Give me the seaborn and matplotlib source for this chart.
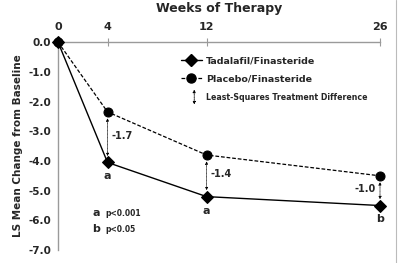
"""
LS mean change from baseline, tadalafil vs placebo (both with finasteride)
"""
import pandas as pd
import matplotlib
matplotlib.use("Agg")
import matplotlib.pyplot as plt
from matplotlib.lines import Line2D
import seaborn as sns

weeks = [0, 4, 12, 26]
tadalafil = [0.0, -4.05, -5.2, -5.5]
placebo = [0.0, -2.35, -3.8, -4.5]
differences = ["-1.7", "-1.4", "-1.0"]
significance = ["a", "a", "b"]
y_ticks = [0.0, -1.0, -2.0, -3.0, -4.0, -5.0, -6.0, -7.0]

df = pd.DataFrame({
    "week": weeks * 2,
    "change": tadalafil + placebo,
    "group": ["Tadalafil/Finasteride"] * 4 + ["Placebo/Finasteride"] * 4,
})

sns.set_style("white")
plt.rcParams['font.family'] = ['DejaVu Sans']
plt.rcParams['font.weight'] = 'bold'

fig = plt.figure(figsize=(4, 2.63), dpi=100)
ax = fig.add_axes([0.145, 0.049, 0.805, 0.791])

grey = "#9a9a9a"

# Main series
sns.lineplot(data=df[df.group == "Tadalafil/Finasteride"], x="week", y="change",
             color="black", linewidth=1.0, marker="D", markersize=6.5,
             markeredgecolor="black", ax=ax, clip_on=False, zorder=5)
sns.lineplot(data=df[df.group == "Placebo/Finasteride"], x="week", y="change",
             color="black", linewidth=0.9, linestyle=(0, (3, 1.5)), marker="o",
             markersize=6.5, markeredgecolor="black", ax=ax, clip_on=False, zorder=5)

# Treatment differences (dotted arrows)
for i, wk in enumerate(weeks[1:], start=1):
    ax.annotate("", xy=(wk, tadalafil[i] + 0.12), xytext=(wk, placebo[i] - 0.12),
                arrowprops=dict(arrowstyle="<|-|>", linestyle=(0, (1, 1)),
                                color="black", lw=0.5, mutation_scale=4))
    if i < 3:
        ax.text(wk + 0.35, (placebo[i] + tadalafil[i]) / 2 + 0.05, differences[i - 1],
                fontsize=7, fontweight="bold", va="center", ha="left")
    else:
        ax.text(wk - 0.35, (placebo[i] + tadalafil[i]) / 2 + 0.05, differences[i - 1],
                fontsize=7, fontweight="bold", va="center", ha="right")
    ax.text(wk, tadalafil[i] - 0.3, significance[i - 1], fontsize=8,
            fontweight="bold", ha="center", va="top")

ax.text(2.75, -5.76, "a", fontsize=8, fontweight="bold", va="center")
ax.text(3.8, -5.76, "p<0.001", fontsize=5.5, fontweight="bold", va="center")
ax.text(2.75, -6.3, "b", fontsize=8, fontweight="bold", va="center")
ax.text(3.8, -6.3, "p<0.05", fontsize=5.5, fontweight="bold", va="center")

# Axes styling
ax.set_xlim(0, 26)
ax.set_ylim(-7, 0)
ax.xaxis.tick_top()
ax.set_xticks(weeks)
ax.set_xticklabels([str(w) for w in weeks], fontsize=8, fontweight="bold")
ax.set_yticks(y_ticks)
ax.set_yticklabels([f"{v:.1f}" for v in y_ticks], fontsize=7.5, fontweight="bold")
ax.tick_params(axis="both", direction="inout", length=6, color=grey, width=0.8, pad=2)
ax.tick_params(axis="x", pad=4)
for side in ["right", "bottom"]:
    ax.spines[side].set_visible(False)
for side in ["left", "top"]:
    ax.spines[side].set_color(grey)
    ax.spines[side].set_linewidth(1.0)
ax.set_xlabel("")
ax.set_ylabel("LS Mean Change from Baseline", fontsize=7.5, fontweight="bold", labelpad=4)
fig.text(0.549, 0.968, "Weeks of Therapy", fontsize=9, fontweight="bold",
         ha="center", va="center")

# Legend
handles = [
    Line2D([], [], color="black", lw=1.0, marker="D", markersize=6.5),
    Line2D([], [], color="black", lw=0.9, linestyle=(0, (3, 1.5)), marker="o", markersize=6.5),
    Line2D([], [], color="none"),
]
leg = ax.legend(handles, ["Tadalafil/Finasteride", "Placebo/Finasteride",
                          "Least-Squares Treatment Difference"],
                loc="upper left", bbox_to_anchor=(0.382, 0.93), frameon=False,
                borderpad=0, borderaxespad=0,
                handlelength=2.2, handletextpad=0.45, labelspacing=0.95,
                prop={"size": 6.8, "weight": "bold"})
leg.get_texts()[2].set_fontsize(5.7)
ax.annotate("", xy=(11.0, -2.1), xytext=(11.0, -1.6), xycoords="data",
            arrowprops=dict(arrowstyle="<|-|>", linestyle=(0, (1, 1)),
                            color="black", lw=0.6, mutation_scale=4,
                            shrinkA=0, shrinkB=0))

fig.add_artist(Line2D([0.99, 0.99], [0.0, 1.0], color="#bbbbbb", lw=0.8))

fig.savefig("out.png", dpi=100)
